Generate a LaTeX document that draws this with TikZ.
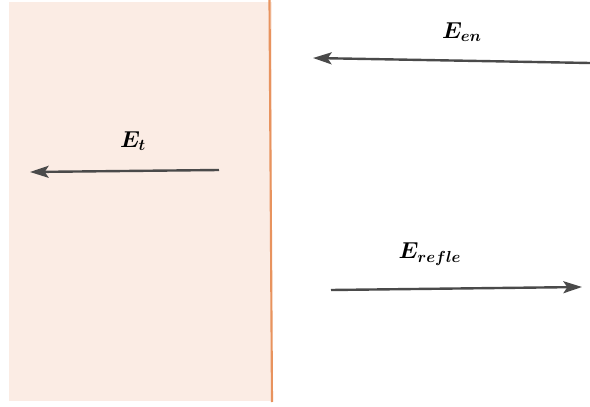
\documentclass[tikz,border=0pt]{standalone}
\usepackage{amsmath}
\usepackage{amssymb}
\usepackage{bm}
\usetikzlibrary{arrows.meta}
\definecolor{medium}{HTML}{FBECE4}
\definecolor{wall}{HTML}{E8935E}
\definecolor{vec}{HTML}{4A4A4A}

\begin{document}
\begin{tikzpicture}[x=0.75pt, y=-0.75pt, every node/.style={font=\LARGE},
  field/.style={draw=vec, line width=1.8pt, -{Stealth[length=14pt, width=9pt, inset=3pt]}}]
  \useasboundingbox (0,0) rectangle (590,407);
  % Second medium
  \fill[medium] (9,2) rectangle (272,401);
  \draw[wall, line width=1.6pt] (269.5,0) -- (272,402);

  % Incident wave
  \coordinate (enA) at (590,63);
  \coordinate (enB) at (313,58);
  \draw[field] (enA) -- (enB);
  \node (en) at (462,32) {$\bm{E_{en}}$};

  % Transmitted wave
  \coordinate (tA) at (219,170);
  \coordinate (tB) at (30,172);
  \draw[field] (tA) -- (tB);
  \node (t) at (133,141) {$\bm{E_{t}}$};

  % Reflected wave
  \coordinate (rA) at (331,290);
  \coordinate (rB) at (582,287);
  \draw[field] (rA) -- (rB);
  \node (refle) at (430,254) {$\bm{E_{refle}}$};
\end{tikzpicture}
\end{document}
